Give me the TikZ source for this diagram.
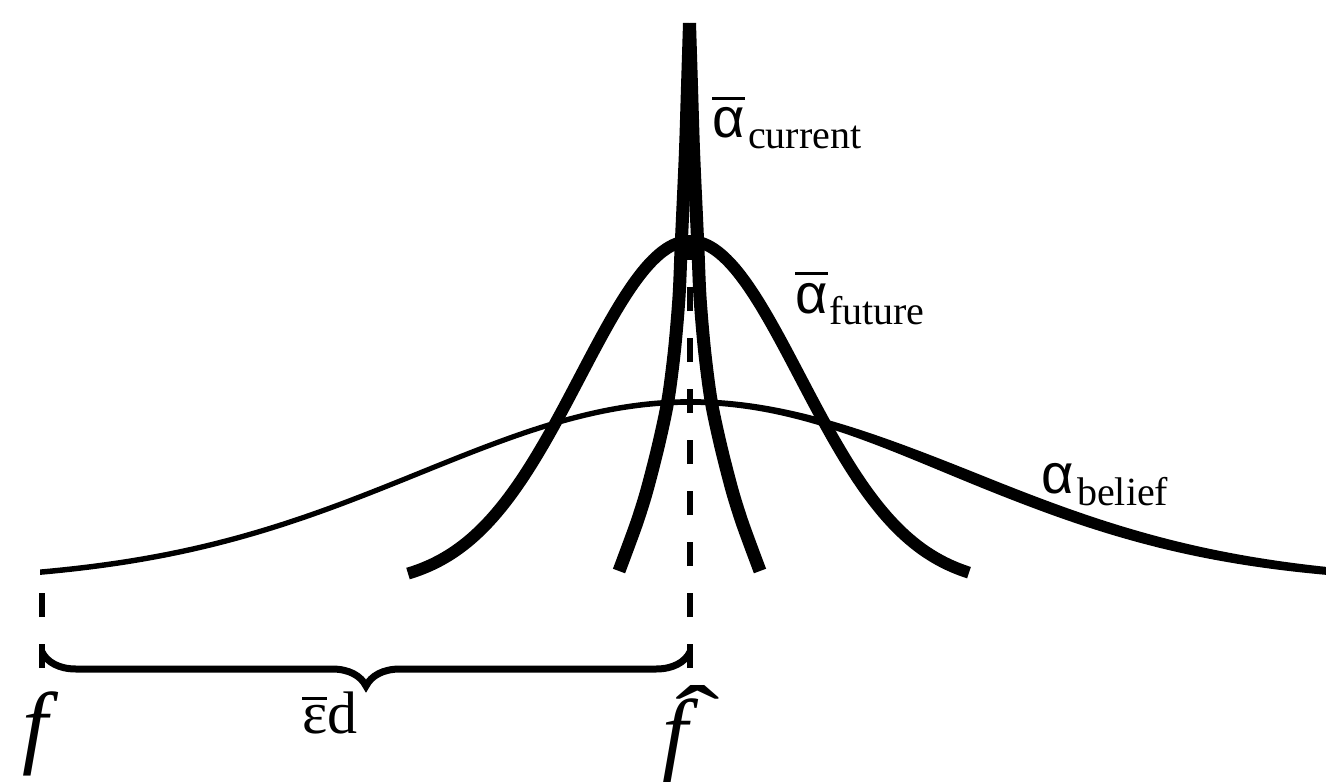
\documentclass[tikz,border=0pt]{standalone}
\usepackage{fontspec}
\setmainfont{Liberation Serif}
\newfontfamily\asans{Liberation Sans}
\usetikzlibrary{decorations.pathreplacing}
\newcommand\ovbar[3]{\vbox{\hrule height #2\kern #3\hbox{#1}}}
\begin{document}
\begin{tikzpicture}[x=1pt,y=-1pt,
  declare function={
    gb(\x)=exp(-0.5*((\x-690)/270)^2);
    yb(\x)=572-170*(gb(\x)-0.056)/0.944;
    tb(\x)=5.5+7*exp(-((\x-990)/ifthenelse(\x<990,160,330))^2);
    gf(\x)=exp(-0.5*((\x-690)/110)^2);
    yf(\x)=573-332*(gf(\x)-0.039)/0.961;
  },
  curvefut/.style={line width=12pt},
  spike/.style={line width=13pt, line cap=butt},
  guide/.style={line width=5.5pt, dash pattern=on 24pt off 27pt},
  lab/.style={inner sep=0pt, anchor=base west},
  greek/.style={lab, font=\fontsize{56}{60}\selectfont\asans},
  sub/.style={lab, font=\fontsize{40}{44}\selectfont},
  axis/.style={lab, font=\fontsize{92}{96}\selectfont\itshape},
]
\useasboundingbox (0,0) rectangle (1326,782);
\fill[white] (0,0) rectangle (1326,782);

% guide coordinates
\coordinate (fl) at (42,668);
\coordinate (flt) at (42,576);
\coordinate (fh) at (690,668);
\coordinate (fht) at (690,245);
\coordinate (bl) at (42,652);
\coordinate (bh) at (690,652);

% dashed guides
\draw[guide] (fl) -- (flt);
\draw[guide] (fh) -- (fht);

% belief curve (variable width)
\fill plot[domain=40:1326, samples=220] (\x, {yb(\x)-tb(\x)/2})
  -- plot[domain=1326:40, samples=220] (\x, {yb(\x)+tb(\x)/2}) -- cycle;

% future curve
\draw[curvefut] plot[domain=408:969, samples=200] (\x, {yf(\x)});

% current spike
\draw[spike] plot[smooth] coordinates {
  (619,571) (628.7,545) (637.7,520) (647,490) (658.5,445) (668,400)
  (674.5,350) (679,297) (681,250) (682.5,217) (685.5,150) (687.7,80) (689.5,23)};
\draw[spike] plot[smooth] coordinates {
  (760,571) (750.3,545) (741.3,520) (732,490) (720.5,445) (711,400)
  (704.5,350) (700,297) (698,250) (696.5,217) (693.5,150) (691.3,80) (689.5,23)};

% brace
\draw[line width=7pt, decorate, decoration={brace, mirror, amplitude=34pt}] (bl) -- (bh);

% labels
\node[greek] (acur) at (712,137) {\ovbar{α}{3pt}{7pt}};
\node[sub] (acurs) at (748,148) {current};
\node[greek] (afut) at (795,313) {\ovbar{α}{3pt}{8pt}};
\node[sub] (afuts) at (829,324) {future};
\node[greek] (abel) at (1041,493) {α};
\node[sub] (abels) at (1077,505) {belief};
\node[lab, font=\fontsize{60}{64}\selectfont] (eps) at (302,733) {\ovbar{ε}{3pt}{5pt}d};
\node[axis] (f) at (22,756) {f};
\node[axis] (fhat) at (662,763) {\makebox[0pt][l]{\kern 13pt\raisebox{14pt}{\upshape\scalebox{1.45}[1]{ˆ}}}f};
\end{tikzpicture}
\end{document}
